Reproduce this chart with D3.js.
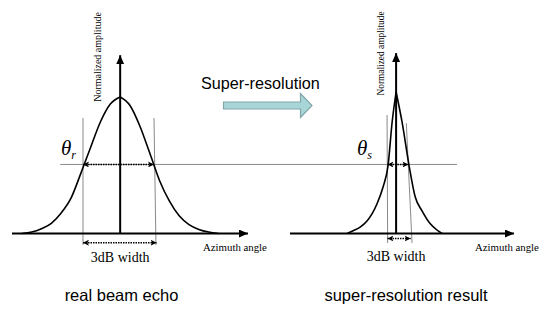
<!DOCTYPE html>
<html>
<head>
<meta charset="utf-8">
<script src="https://cdn.jsdelivr.net/npm/d3@7"></script>
<style>
  body { margin: 0; background: #fff; }
</style>
</head>
<body>
<div class="figure"></div>
<script>
// beam profiles (azimuth angle, normalized amplitude)
const realAngle = [-5.0, -4.5, -4.0, -3.5, -3.0, -2.5, -2.0, -1.5, -1.0, -0.5, 0, 0.5, 1.0, 1.5, 2.0, 2.5, 3.0, 3.5, 4.0, 4.5, 5.0]
const realAmp = [0, 0.01, 0.034, 0.072, 0.145, 0.25, 0.425, 0.61, 0.79, 0.915, 0.965, 0.905, 0.76, 0.57, 0.375, 0.23, 0.125, 0.063, 0.029, 0.01, 0]

const superAngle = [-2.49, -2.19, -1.83, -1.47, -1.22, -0.97, -0.66, -0.41, -0.2, 0, 0.3, 0.66, 0.97, 1.32, 1.73, 2.03, 2.34]
const superAmp = [0, 0.02, 0.045, 0.09, 0.14, 0.21, 0.33, 0.48, 0.79, 1.0, 0.79, 0.48, 0.26, 0.16, 0.07, 0.03, 0]

// half power level and the 3dB width markers
const halfPower = 0.488
const realWidth = [-1.89, 1.72]
const realWidthLow = [-1.89, 1.85]
const superWidth = [-0.44, 0.63]
const superWidthLow = [-0.44, 0.74]

// text
const yLabel = 'Normalized amplitude'
const xLabel = 'Azimuth angle'
const widthLabel = '3dB width'
const panelTitles = ['real beam echo', 'super-resolution result']
const arrowLabel = 'Super-resolution'

const SERIF = '"Liberation Serif", "DejaVu Serif", "Times New Roman", serif'
const SANS = '"Liberation Sans", Arial, sans-serif'

const width = 550
const height = 314

const $figure = d3.select('.figure')
$figure.selectAll('*').remove()

const svg = $figure.append('svg')
  .attr('width', width)
  .attr('height', height)

const defs = svg.append('defs')
defs.append('marker')
  .attr('id', 'axisHead')
  .attr('markerUnits', 'userSpaceOnUse')
  .attr('markerWidth', 9).attr('markerHeight', 8)
  .attr('refX', 9).attr('refY', 4)
  .attr('orient', 'auto')
  .append('path').attr('d', 'M0,0 L9,4 L0,8 z').attr('fill', '#000')

defs.append('marker')
  .attr('id', 'dimHead')
  .attr('markerUnits', 'userSpaceOnUse')
  .attr('markerWidth', 6).attr('markerHeight', 6)
  .attr('refX', 6).attr('refY', 3)
  .attr('orient', 'auto-start-reverse')
  .append('path').attr('d', 'M0,0 L6,3 L0,6 L1.5,3 z').attr('fill', '#000')

// shared amplitude scale
const y = d3.scaleLinear().domain([0, 1]).range([233.5, 92])

const panels = [{
  angle: realAngle, amp: realAmp,
  x: d3.scaleLinear().domain([-5.5, 6.5]).range([12, 248]),
  axisTop: 1.26,
  guides: [[-1.89, 0.816, -1.89, -0.081], [1.72, 0.816, 1.82, -0.081]],
  width: realWidth, widthLow: realWidthLow, lowAmp: -0.065,
  widthText: 261.5, yLabelX: 101, yLabelY: 57, yLabelSize: 10,
  xLabelX: 203, theta: 'r', thetaX: 61, title: 121.5
}, {
  angle: superAngle, amp: superAmp,
  x: d3.scaleLinear().domain([-5.4, 6.0]).range([290, 514]),
  axisTop: 1.275,
  guides: [[-0.46, 0.837, -0.43, -0.067], [0.52, 0.78, 0.81, -0.067]],
  width: superWidth, widthLow: superWidthLow, lowAmp: -0.035,
  widthText: 261, yLabelX: 384, yLabelY: 53.5, yLabelSize: 9.4,
  xLabelX: 475, theta: 's', thetaX: 357, title: 406
}]

// gray half-power line across both panels
svg.append('line')
  .attr('x1', panels[0].x(-3.05)).attr('x2', panels[1].x(3.1))
  .attr('y1', y(halfPower)).attr('y2', y(halfPower))
  .attr('stroke', '#8a8a8a').attr('stroke-width', 1)

panels.forEach((p, k) => {
  const g = svg.append('g')
  const x = p.x

  // gray width guides
  g.selectAll('.guide')
    .data(p.guides)
    .join('line')
    .attr('class', 'guide')
    .attr('x1', d => x(d[0])).attr('y1', d => y(d[1]))
    .attr('x2', d => x(d[2])).attr('y2', d => y(d[3]))
    .attr('stroke', '#8a8a8a').attr('stroke-width', 1)

  // axes
  g.append('line')
    .attr('x1', x.range()[0]).attr('x2', x.range()[1])
    .attr('y1', y(0)).attr('y2', y(0))
    .attr('stroke', '#000').attr('stroke-width', 2)
    .attr('marker-end', 'url(#axisHead)')

  g.append('line')
    .attr('x1', x(0)).attr('x2', x(0))
    .attr('y1', y(0)).attr('y2', y(p.axisTop))
    .attr('stroke', '#000').attr('stroke-width', 2)
    .attr('marker-end', 'url(#axisHead)')

  // beam curve, drawn as two halves so the peak keeps its shape
  const pts = p.angle.map((a, i) => [a, p.amp[i]])
  const peak = d3.maxIndex(p.amp)
  const line = d3.line()
    .x(d => x(d[0]))
    .y(d => y(d[1]))
    .curve(d3.curveMonotoneX)

  g.selectAll('.beam')
    .data([pts.slice(0, peak + 1), pts.slice(peak)])
    .join('path')
    .attr('class', 'beam')
    .attr('d', line)
    .attr('fill', 'none')
    .attr('stroke', '#000')
    .attr('stroke-width', 1.6)

  // dotted 3dB width arrows
  const dims = [[p.width, halfPower], [p.widthLow, p.lowAmp]]
  g.selectAll('.dim')
    .data(dims)
    .join('line')
    .attr('class', 'dim')
    .attr('x1', d => x(d[0][0])).attr('x2', d => x(d[0][1]))
    .attr('y1', d => y(d[1])).attr('y2', d => y(d[1]))
    .attr('stroke', '#000').attr('stroke-width', 1.5)
    .attr('stroke-dasharray', '1.5,1')
    .attr('marker-start', 'url(#dimHead)')
    .attr('marker-end', 'url(#dimHead)')

  // labels
  g.append('text')
    .attr('font-family', SERIF)
    .attr('transform', `translate(${p.yLabelX},${p.yLabelY}) rotate(-90)`)
    .attr('text-anchor', 'middle')
    .attr('font-size', p.yLabelSize)
    .text(yLabel)

  g.append('text')
    .attr('font-family', SERIF)
    .attr('x', p.xLabelX).attr('y', 250.5)
    .attr('font-size', 10.8)
    .text(xLabel)

  g.append('text')
    .attr('font-family', SERIF)
    .attr('x', x(0)).attr('y', p.widthText)
    .attr('text-anchor', 'middle')
    .attr('font-size', 14)
    .text(widthLabel)

  const theta = g.append('text')
    .attr('font-family', SERIF)
    .attr('x', p.thetaX).attr('y', 155)
    .attr('font-style', 'italic')
    .attr('font-size', 21)
  theta.append('tspan').text('θ')
  theta.append('tspan')
    .attr('font-size', 12)
    .attr('dy', 4)
    .text(p.theta)

  g.append('text')
    .attr('font-family', SANS)
    .attr('x', p.title).attr('y', 300.5)
    .attr('text-anchor', 'middle')
    .attr('font-size', 16.5)
    .text(panelTitles[k])
})

// block arrow between the panels
const arrow = svg.append('g')
arrow.append('path')
  .attr('d', 'M223.5,102 L300.5,102 L300.5,93.5 L312,105.5 L300.5,117.5 L300.5,109 L223.5,109 Z')
  .attr('fill', '#a8d6d8')
  .attr('stroke', '#82a6a8')
  .attr('stroke-width', 1.2)

arrow.append('text')
  .attr('font-family', SANS)
  .attr('x', 201).attr('y', 89)
  .attr('font-size', 16.2)
  .text(arrowLabel)
</script>
</body>
</html>
